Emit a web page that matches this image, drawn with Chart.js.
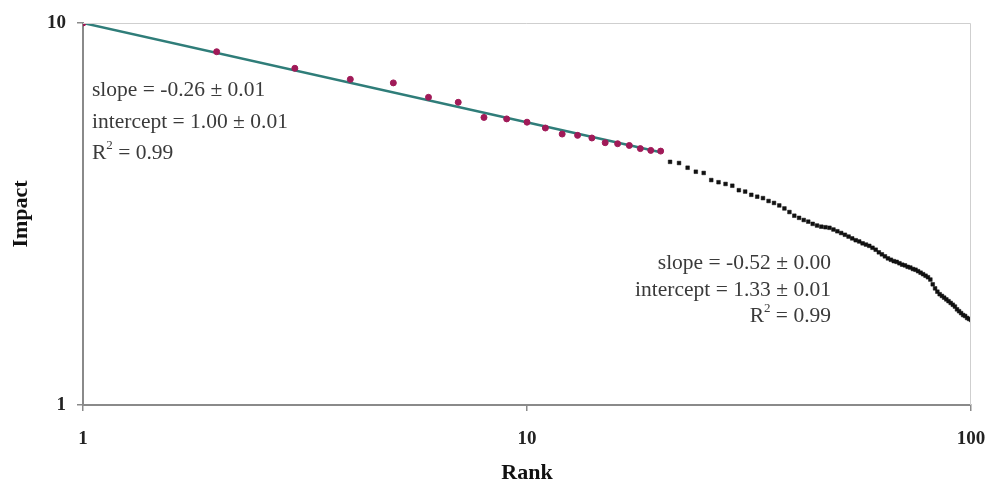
<!DOCTYPE html>
<html>
<head>
<meta charset="utf-8">
<script src="https://cdn.jsdelivr.net/npm/chart.js@4/dist/chart.umd.min.js"></script>
<style>
  html, body { margin: 0; padding: 0; background: #ffffff; }
  #wrap { width: 987px; height: 484px; position: relative; }
</style>
</head>
<body>
<div id="wrap"><canvas id="c" width="987" height="484"></canvas></div>
<script>
// ---- data ----
const ranksTop = [1,2,3,4,5,6,7,8,9,10,11,12,13,14,15,16,17,18,19,20];
const impactTop = [10.0,8.41,7.61,7.12,6.97,6.39,6.20,5.66,5.61,5.50,5.31,5.12,5.08,5.00,4.86,4.83,4.78,4.69,4.64,4.62];

const ranksRest = [21,22,23,24,25,26,27,28,29,30,31,32,33,34,35,36,37,38,39,40,
  41,42,43,44,45,46,47,48,49,50,51,52,53,54,55,56,57,58,59,60,
  61,62,63,64,65,66,67,68,69,70,71,72,73,74,75,76,77,78,79,80,
  81,82,83,84,85,86,87,88,89,90,91,92,93,94,95,96,97,98,99,100];
const impactRest = [4.33,4.30,4.18,4.08,4.05,3.88,3.83,3.79,3.75,3.65,3.62,3.55,3.51,3.48,3.42,3.38,3.33,3.27,3.20,3.13,
  3.09,3.05,3.02,2.98,2.95,2.93,2.92,2.91,2.88,2.85,2.82,2.79,2.76,2.73,2.70,2.68,2.65,2.63,2.61,2.58,
  2.55,2.51,2.48,2.45,2.42,2.40,2.38,2.37,2.35,2.33,2.32,2.30,2.29,2.27,2.26,2.24,2.22,2.20,2.18,2.16,
  2.13,2.07,2.02,1.98,1.95,1.93,1.91,1.89,1.87,1.85,1.83,1.81,1.78,1.76,1.74,1.72,1.71,1.69,1.68,1.67];

// fit of the top 20 (log10 impact = intercept + slope * log10 rank)
const fitSlope = -0.26;
const fitIntercept = 1.00;
const fitRange = [1, 20];

const xTicks = [1, 10, 100];
const yTicks = [1, 10];

const noteLeft = ["slope = -0.26 \u00b1 0.01", "intercept = 1.00 \u00b1 0.01", "R2 = 0.99"];
const noteRight = ["slope = -0.52 \u00b1 0.00", "intercept = 1.33 \u00b1 0.01", "R2 = 0.99"];

const fitLine = fitRange.map(r => ({ x: r, y: Math.pow(10, fitIntercept + fitSlope * Math.log10(r)) }));

const SERIF = "'Liberation Serif', 'DejaVu Serif', serif";

const notesPlugin = {
  id: 'notes',
  afterDraw(chart) {
    const ctx = chart.ctx;
    const a = chart.chartArea;
    ctx.save();
    // top & right frame
    ctx.strokeStyle = '#cfcfcf';
    ctx.lineWidth = 1;
    ctx.beginPath();
    ctx.moveTo(a.left, a.top + 0.5);
    ctx.lineTo(a.right - 0.5, a.top + 0.5);
    ctx.lineTo(a.right - 0.5, a.bottom);
    ctx.stroke();

    ctx.fillStyle = '#3a3a3a';
    ctx.textBaseline = 'middle';
    const fs = 21.5;
    function drawLine(txt, x, y, align) {
      ctx.font = fs + 'px ' + SERIF;
      if (txt.startsWith('R2')) {
        const rest = txt.slice(2);
        const wR = ctx.measureText('R').width;
        const wRest = ctx.measureText(rest).width;
        ctx.font = Math.round(fs * 0.6) + 'px ' + SERIF;
        const w2 = ctx.measureText('2').width;
        const total = wR + w2 + wRest;
        const sx = align === 'right' ? x - total : x;
        ctx.textAlign = 'left';
        ctx.font = fs + 'px ' + SERIF;
        ctx.fillText('R', sx, y);
        ctx.font = Math.round(fs * 0.6) + 'px ' + SERIF;
        ctx.fillText('2', sx + wR, y - 7);
        ctx.font = fs + 'px ' + SERIF;
        ctx.fillText(rest, sx + wR + w2, y);
      } else {
        ctx.textAlign = align;
        ctx.fillText(txt, x, y);
      }
    }
    const leftYs = [90, 122, 153];
    noteLeft.forEach((t, i) => drawLine(t, 92, leftYs[i], 'left'));
    const rightYs = [263, 290, 316];
    noteRight.forEach((t, i) => drawLine(t, 831, rightYs[i], 'right'));
    ctx.restore();
  }
};

new Chart(document.getElementById('c'), {
  type: 'scatter',
  data: {
    datasets: [
      {
        label: 'fit',
        type: 'line',
        data: fitLine,
        borderColor: '#2f7d79',
        borderWidth: 2.5,
        pointRadius: 0,
        fill: false,
        order: 3
      },
      {
        label: 'top 20',
        data: ranksTop.map((r, i) => ({ x: r, y: impactTop[i] })),
        backgroundColor: '#a01a58',
        borderColor: '#a01a58',
        pointRadius: 3,
        pointStyle: 'circle',
        order: 1
      },
      {
        label: 'rest',
        data: ranksRest.map((r, i) => ({ x: r, y: impactRest[i] })),
        backgroundColor: '#111111',
        borderColor: '#111111',
        borderWidth: 0.5,
        pointRadius: 2.6,
        pointStyle: 'rect',
        order: 2
      }
    ]
  },
  options: {
    responsive: false,
    animation: false,
    devicePixelRatio: 1,
    layout: { padding: { left: 0, right: 16, top: 23, bottom: 0 } },
    plugins: {
      legend: { display: false },
      tooltip: { enabled: false }
    },
    scales: {
      x: {
        type: 'logarithmic',
        min: 1,
        max: 100,
        afterBuildTicks(scale) { scale.ticks = xTicks.map(v => ({ value: v })); },
        afterFit(scale) { scale.height = 79; scale.paddingLeft = 0; scale.paddingRight = 0; },
        ticks: {
          callback: v => String(v),
          font: { family: SERIF, size: 19, weight: 'bold' },
          color: '#222',
          padding: 17,
          maxRotation: 0,
          autoSkip: false
        },
        grid: { display: true, drawOnChartArea: false, drawTicks: true, tickLength: 6, color: '#8a8a8a', lineWidth: 1.5 },
        border: { display: true, color: '#8a8a8a', width: 2 },
        title: {
          display: true, text: 'Rank', color: '#111',
          font: { family: SERIF, size: 22, weight: 'bold', lineHeight: 1 },
          padding: { top: 0, bottom: 0 }
        }
      },
      y: {
        type: 'logarithmic',
        min: 1,
        max: 10,
        afterBuildTicks(scale) { scale.ticks = yTicks.map(v => ({ value: v })); },
        afterFit(scale) { scale.width = 83; scale.paddingTop = 0; scale.paddingBottom = 0; },
        ticks: {
          callback: v => String(v),
          font: { family: SERIF, size: 19, weight: 'bold' },
          color: '#222',
          padding: 11,
          autoSkip: false
        },
        grid: { display: true, drawOnChartArea: false, drawTicks: true, tickLength: 6, color: '#8a8a8a', lineWidth: 1.5 },
        border: { display: true, color: '#8a8a8a', width: 2 },
        title: {
          display: true, text: 'Impact', color: '#111',
          font: { family: SERIF, size: 22, weight: 'bold', lineHeight: 1 },
          padding: { top: 10, bottom: 0 }
        }
      }
    }
  },
  plugins: [notesPlugin]
});
</script>
</body>
</html>
